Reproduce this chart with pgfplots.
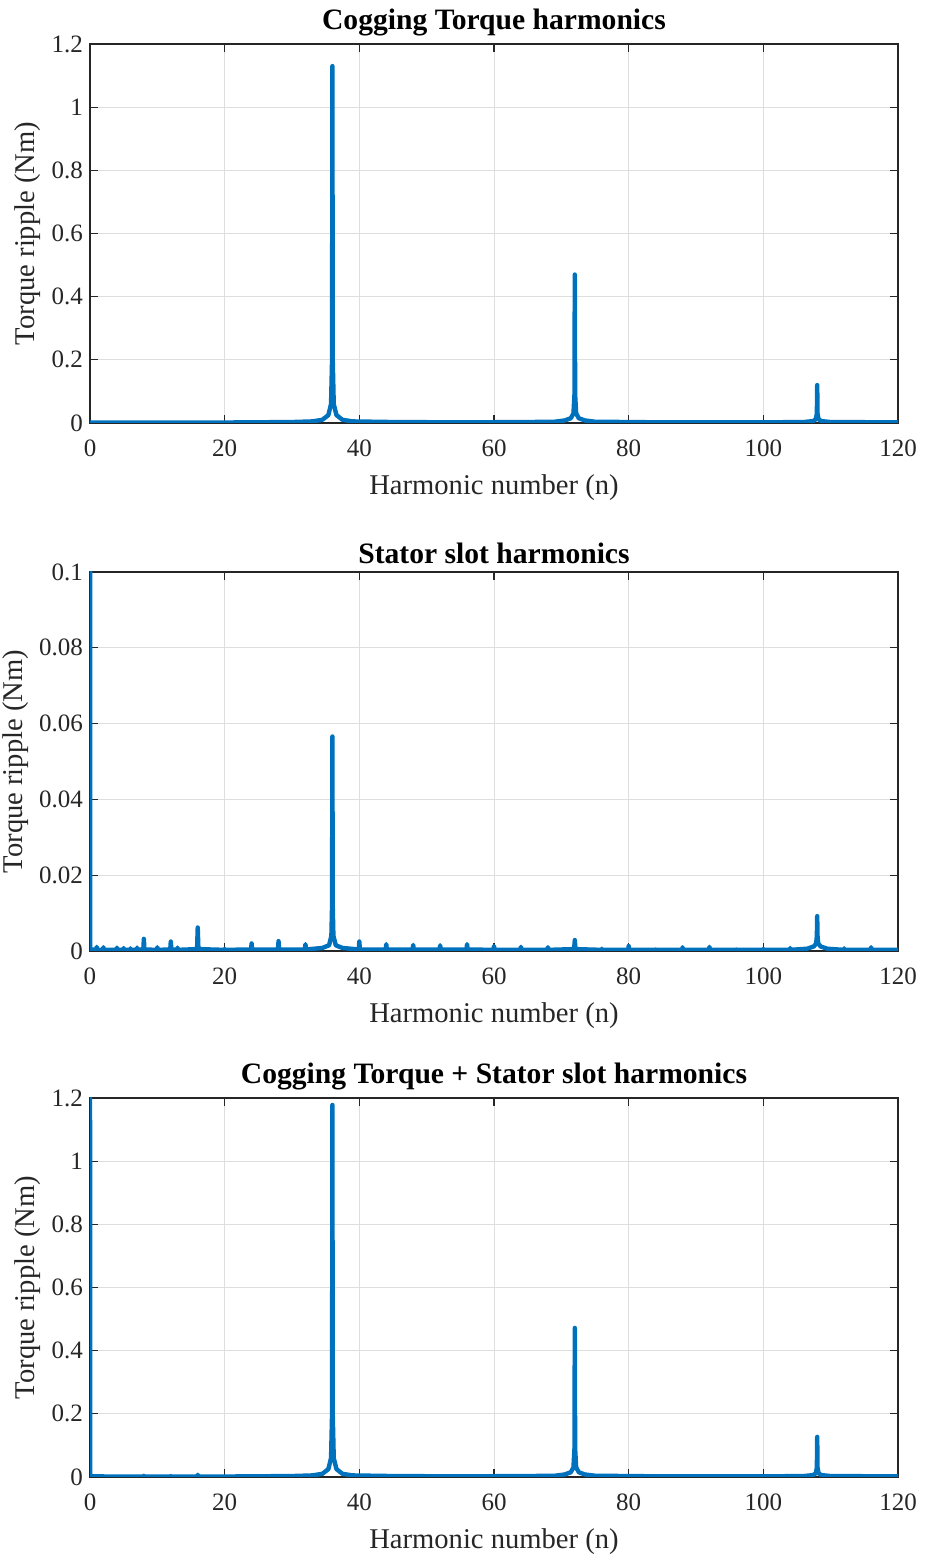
\documentclass[border=0pt]{standalone}
\usepackage{fontspec}
\setmainfont{Liberation Serif}
\usepackage{pgfplots}
\pgfplotsset{compat=1.18}
\definecolor{mblue}{RGB}{0,114,189}
\definecolor{mgrid}{gray}{0.87}
\definecolor{maxis}{gray}{0.15}

\pgfplotstableread{
x y
0 0.001
10 0.001
20 0.0015
30 0.003
33 0.005
34.5 0.01
35.4 0.025
35.8 0.06
35.95 0.2
36 1.13
36.05 0.2
36.2 0.06
36.6 0.025
37.5 0.01
39 0.005
45 0.003
55 0.002
65 0.003
69 0.004
70.5 0.008
71.4 0.015
71.8 0.03
71.95 0.09
72 0.47
72.05 0.09
72.2 0.03
72.6 0.015
73.5 0.008
75 0.004
85 0.002
100 0.002
106 0.003
107.4 0.006
107.8 0.012
107.95 0.03
108 0.12
108.05 0.03
108.2 0.012
108.6 0.006
110 0.003
120 0.002
}\cogging

\pgfplotstableread{
x y
0 0.15
0.03 0.0004
0.95 0.0003
1 0.0011
1.05 0.0003
1.95 0.0003
2 0.001
2.05 0.0003
3.95 0.0003
4 0.0009
4.05 0.0003
4.95 0.0003
5 0.0008
5.05 0.0003
5.95 0.0003
6 0.0007
6.05 0.0003
6.95 0.0003
7 0.0009
7.05 0.0003
7.92 0.0004
8 0.0032
8.08 0.0004
9.95 0.0003
10 0.001
10.05 0.0003
11.92 0.0004
12 0.0025
12.08 0.0004
12.95 0.0003
13 0.0009
13.05 0.0003
15.9 0.0005
16 0.0062
16.1 0.0005
19.95 0.0003
20 0.0006
20.05 0.0003
23.92 0.0004
24 0.002
24.08 0.0004
27.92 0.0004
28 0.0026
28.08 0.0004
31.92 0.0004
32 0.0018
32.08 0.0004
34.5 0.0008
35.5 0.0015
35.85 0.004
35.95 0.012
36 0.0566
36.05 0.012
36.15 0.004
36.5 0.0015
37.5 0.0008
39.92 0.0004
40 0.0025
40.08 0.0004
43.92 0.0004
44 0.0018
44.08 0.0004
47.92 0.0004
48 0.0016
48.08 0.0004
51.92 0.0004
52 0.0015
52.08 0.0004
55.92 0.0004
56 0.0018
56.08 0.0004
59.92 0.0003
60 0.0013
60.08 0.0003
63.92 0.0003
64 0.0011
64.08 0.0003
67.92 0.0003
68 0.001
68.08 0.0003
71.9 0.0005
72 0.0029
72.1 0.0005
75.95 0.0003
76 0.0006
76.05 0.0003
79.95 0.0003
80 0.0013
80.05 0.0003
83.95 0.0003
84 0.0004
84.05 0.0003
87.95 0.0003
88 0.001
88.05 0.0003
91.95 0.0003
92 0.0011
92.05 0.0003
95.95 0.0003
96 0.0004
96.05 0.0003
99.95 0.0003
100 0.0006
100.05 0.0003
103.95 0.0003
104 0.0008
104.05 0.0003
106.5 0.0006
107.5 0.0012
107.85 0.002
107.95 0.004
108 0.0092
108.05 0.004
108.15 0.002
108.5 0.0012
109.5 0.0006
111.95 0.0003
112 0.0007
112.05 0.0003
115.95 0.0003
116 0.001
116.05 0.0003
120 0.0003
}\stator

\pgfplotstableread{
x y
0 1.5
0.03 0.002
7.92 0.001
8 0.004
8.08 0.001
11.92 0.001
12 0.003
12.08 0.001
15.9 0.0015
16 0.007
16.1 0.0015
20 0.0015
30 0.003
33 0.005
34.5 0.01
35.4 0.025
35.8 0.06
35.95 0.2
36 1.178
36.05 0.2
36.2 0.06
36.6 0.025
37.5 0.01
39 0.005
45 0.003
55 0.002
65 0.003
69 0.004
70.5 0.008
71.4 0.015
71.8 0.03
71.95 0.09
72 0.472
72.05 0.09
72.2 0.03
72.6 0.015
73.5 0.008
75 0.004
85 0.002
100 0.002
106 0.003
107.4 0.006
107.8 0.012
107.95 0.03
108 0.127
108.05 0.03
108.2 0.012
108.6 0.006
110 0.003
120 0.002
}\combined

\pgfplotsset{
  mstyle/.style={
    scale only axis,
    width=404pt, height=189.5pt,
    anchor=south west,
    xmin=0, xmax=120,
    xtick={0,20,...,120},
    grid=major,
    major grid style={color=mgrid, line width=0.5pt},
    axis line style={color=maxis, line width=0.6pt},
    tick style={color=maxis, line width=0.6pt},
    tick align=inside,
    xtick pos=both, ytick pos=both,
    major tick length=4pt,
    tick label style={font=\fontsize{12.5}{14}\selectfont, color=maxis},
    label style={font=\fontsize{14.3}{16}\selectfont, color=maxis},
    title style={font=\bfseries\fontsize{14.8}{17}\selectfont, yshift=-5.5pt},
    xlabel={Harmonic number (n)},
    ylabel={Torque ripple (Nm)},
    xlabel style={yshift=-2pt},
    ylabel style={yshift=-1.5pt},
    scaled ticks=false,
    /pgf/number format/assume math mode=true,
    yticklabel style={/pgf/number format/fixed, /pgf/number format/precision=2},
    xticklabel style={/pgf/number format/fixed, yshift=-5pt},
  }
}

\begin{document}
\begin{tikzpicture}
\path[use as bounding box] (-45pt,-40.5pt) rectangle (417.5pt,738.5pt);

\begin{axis}[mstyle, at={(0pt,527pt)},
  title={Cogging Torque harmonics},
  ymin=0, ymax=1.2, ytick={0,0.2,...,1.2}]
\addplot[color=mblue, line width=2.2pt, line join=round, line cap=round] table[x=x,y=y] {\cogging};
\end{axis}

\begin{axis}[mstyle, at={(0pt,263pt)},
  title={Stator slot harmonics},
  ymin=0, ymax=0.1, ytick={0,0.02,0.04,0.06,0.08,0.1}]
\addplot[color=mblue, line width=2.2pt, line join=round, line cap=round] table[x=x,y=y] {\stator};
\end{axis}

\begin{axis}[mstyle, at={(0pt,0pt)},
  title={Cogging Torque + Stator slot harmonics},
  ymin=0, ymax=1.2, ytick={0,0.2,...,1.2}]
\addplot[color=mblue, line width=2.2pt, line join=round, line cap=round] table[x=x,y=y] {\combined};
\end{axis}
\end{tikzpicture}
\end{document}
